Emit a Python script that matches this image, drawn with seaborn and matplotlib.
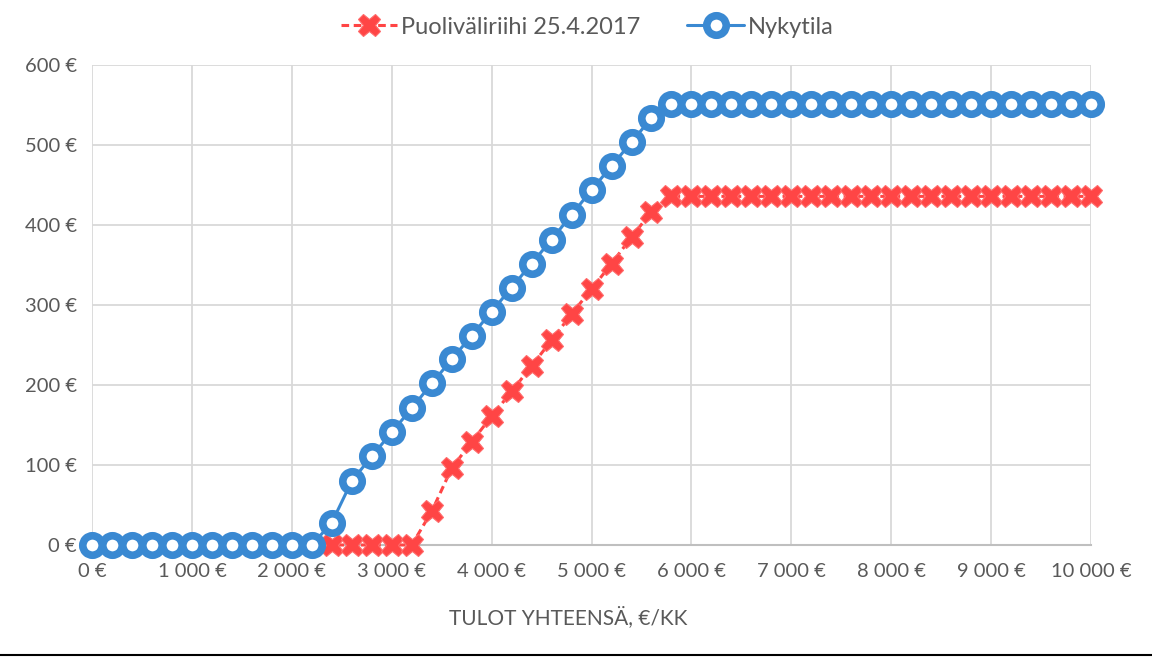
import matplotlib
matplotlib.use("Agg")
import matplotlib.pyplot as plt
import matplotlib.ticker as mticker
from matplotlib.lines import Line2D
import pandas as pd
import seaborn as sns

# tulot 0 ... 10 000 €/kk, 200 € välein
tulot = list(range(0, 10001, 200))

nykytila = [0] * 12 + [
    28, 80, 111, 141, 171, 202, 232, 262, 292, 322,
    352, 382, 413, 444, 474, 504, 534,
] + [552] * 22

puolivali = [0] * 17 + [
    42, 96, 129, 161, 192, 224, 256, 289, 320, 352, 385, 417,
] + [436] * 22

x_ticks = list(range(0, 10001, 1000))
y_ticks = list(range(0, 601, 100))


def euro(v, pos=None):
    return f"{int(v):,} €".replace(",", " ")


df = pd.DataFrame({"tulot": tulot, "Nykytila": nykytila, "Puolivali": puolivali})

sns.set_style("white")
plt.rcParams["font.family"] = ["Lato", "DejaVu Sans"]

fig = plt.figure(figsize=(11.52, 6.59), dpi=100)
ax = fig.add_axes([0.0799, 0.173, 0.8672, 0.728])

red = "#FF4545"
blue = "#3A89D2"
red_style = dict(color=red, linewidth=2.2, linestyle=(0, (2.5, 1.5)), marker="X",
                 markersize=16, markeredgecolor="#FF6A6A", markeredgewidth=0.8)
blue_style = dict(color=blue, linewidth=2.2, marker="o", markersize=14,
                  markerfacecolor="white", markeredgecolor=blue, markeredgewidth=5.5)

sns.lineplot(data=df, x="tulot", y="Puolivali", ax=ax, clip_on=False, zorder=3, **red_style)
sns.lineplot(data=df, x="tulot", y="Nykytila", ax=ax, clip_on=False, zorder=4, **blue_style)

ax.set_xlim(0, 10000)
ax.set_ylim(0, 600)
ax.set_xticks(x_ticks)
ax.set_yticks(y_ticks)
ax.xaxis.set_major_formatter(mticker.FuncFormatter(euro))
ax.yaxis.set_major_formatter(mticker.FuncFormatter(euro))
ax.tick_params(axis="both", length=0, labelsize=14.5, labelcolor="#595959")
ax.tick_params(axis="x", pad=13)
ax.tick_params(axis="y", pad=11)
ax.grid(True, color="#D9D9D9", linewidth=1.3)
ax.set_axisbelow(True)
for s in ["top", "right", "left"]:
    ax.spines[s].set_visible(False)
ax.spines["bottom"].set_color("#BFBFBF")
ax.spines["bottom"].set_linewidth(1.5)
ax.set_xlabel("")
ax.set_ylabel("")

fig.text(568 / 1152, 1 - 617 / 659, "TULOT YHTEENSÄ, €/KK", ha="center", va="center",
         fontsize=15, color="#595959")

handles = [Line2D([], [], **red_style), Line2D([], [], **blue_style)]
fig.legend(handles, ["Puoliväliriihi 25.4.2017", "Nykytila"], loc="center",
           bbox_to_anchor=(587 / 1152, 1 - 27 / 659), ncol=2, frameon=False,
           fontsize=17, labelcolor="#595959", handlelength=2.4, handletextpad=0.15,
           columnspacing=2.0)

fig.add_artist(Line2D([0, 1], [4 / 659, 4 / 659], color="black", linewidth=1.5))

fig.savefig("out.png", dpi=100)
